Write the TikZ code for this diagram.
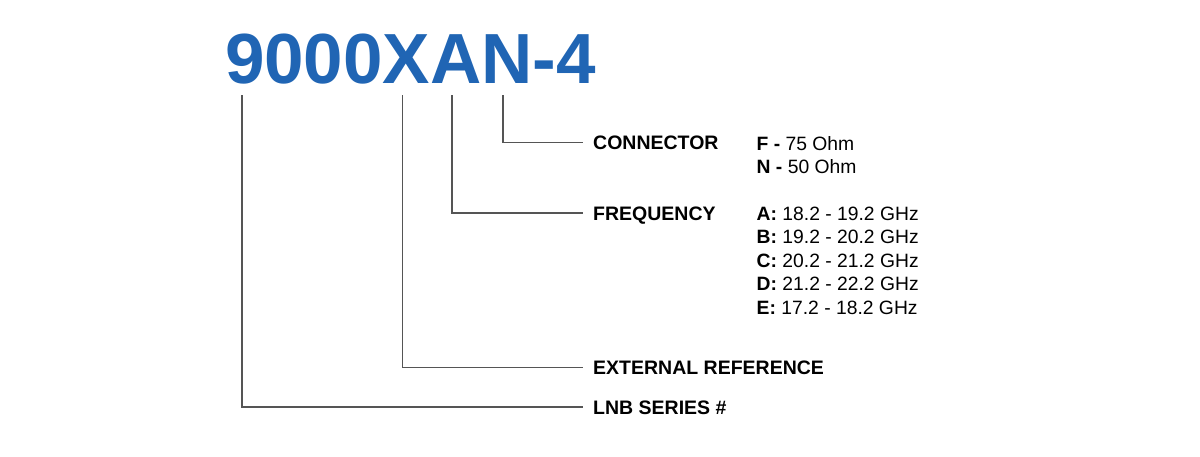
\documentclass[tikz,border=0pt]{standalone}
\usepackage{fontspec}
\setmainfont{Liberation Sans}
\definecolor{codeblue}{RGB}{32,101,180}
\definecolor{leadgray}{RGB}{85,85,85}
\begin{document}
\begin{tikzpicture}[x=1pt, y=-1pt,
	code/.style={inner sep=0pt, outer sep=0pt, anchor=base west, text depth=0pt, codeblue, font=\fontsize{71}{71}\selectfont\bfseries},
	field/.style={inner sep=0pt, anchor=base west, text height=13.8pt, text depth=0pt, font=\fontsize{19.5}{23.5}\selectfont\bfseries},
	values/.style={inner sep=0pt, anchor=base west, font=\fontsize{19.3}{23.5}\selectfont},
	lead/.style={leadgray, line width=1.6pt, shorten >=10pt}]
	\useasboundingbox (0,0) rectangle (1200,456);
	
	\node [code] (nine) at (225,83) {9};
	\node [code] (zeros) at (nine.base east) {000};
	\node [code] (xref) at (zeros.base east) {X};
	\node [code] (freq) at (xref.base east) {A};
	\node [code] (conn) at (freq.base east) {N};
	\node [code] (tail) at (conn.base east) {-4};
	
	\node [field] (connector) at (593,149.5) {CONNECTOR};
	\node [field] (frequency) at (593,220) {FREQUENCY};
	\node [field] (external) at (593,374.5) {EXTERNAL REFERENCE};
	\node [field] (series) at (593,414) {LNB SERIES \#};
	
	\node [values] (conn-F) at (756.5,150) {\textbf{F -} 75 Ohm};
	\node [values] (conn-N) at (756.5,173.5) {\textbf{N -} 50 Ohm};
	\foreach \band/\range [count=\i from 0] in {A/{18.2 - 19.2}, B/{19.2 - 20.2}, C/{20.2 - 21.2}, D/{21.2 - 22.2}, E/{17.2 - 18.2}}
		\node [values] (freq-\band) at (756.5,220+23.5*\i) {\textbf{\band:} \range{} GHz};
	
	\draw [lead] ([xshift=-4pt, yshift=-12pt]conn.south) |- (connector.west);
	\draw [lead] ([xshift=-4pt, yshift=-12pt]freq.south) |- (frequency.west);
	\draw [lead] ([xshift=-4pt, yshift=-12pt]xref.south) |- (external.west);
	\draw [lead] ([xshift=-3pt, yshift=-12pt]nine.south) |- (series.west);
\end{tikzpicture}
\end{document}
